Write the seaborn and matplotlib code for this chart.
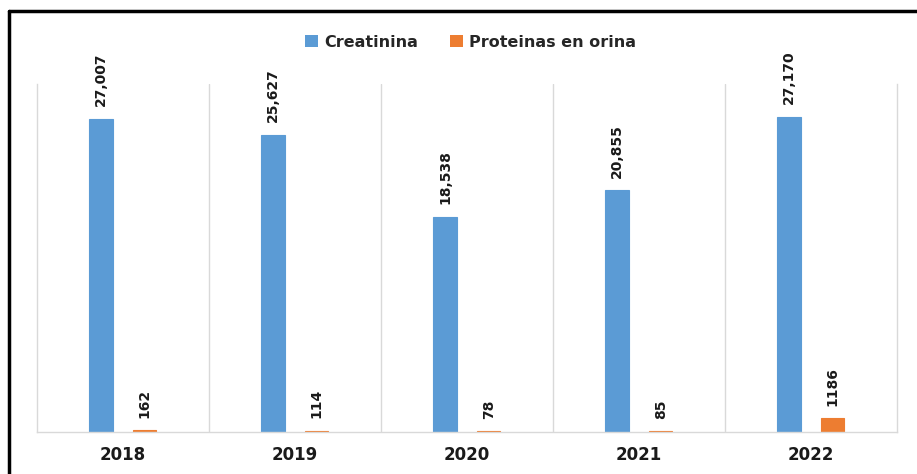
import matplotlib
matplotlib.use("Agg")
import matplotlib.pyplot as plt
from matplotlib.lines import Line2D
import seaborn as sns
import pandas as pd

years = ["2018", "2019", "2020", "2021", "2022"]
creatinina = [27007, 25627, 18538, 20855, 27170]
proteinas = [162, 114, 78, 85, 1186]
series_names = ["Creatinina", "Proteinas en orina"]
creat_labels = ["27,007", "25,627", "18,538", "20,855", "27,170"]
prot_labels = ["162", "114", "78", "85", "1186"]

df = pd.DataFrame({
    "year": years * 2,
    "value": creatinina + proteinas,
    "serie": [series_names[0]] * len(years) + [series_names[1]] * len(years),
})

sns.set_theme(style="white")
plt.rcParams["font.family"] = ["DejaVu Sans"]

fig = plt.figure(figsize=(9.17, 4.74), dpi=100)
ax = fig.add_axes([0.0403, 0.0886, 0.9377, 0.7342])

palette = {series_names[0]: "#5B9BD5", series_names[1]: "#ED7D31"}
sns.barplot(data=df, x="year", y="value", hue="serie", order=years,
            hue_order=series_names, palette=palette, width=0.51, gap=0.47,
            saturation=1, ax=ax, legend=True, linewidth=0)

for cont in ax.containers:
    for p in cont.patches:
        p.set_edgecolor(p.get_facecolor())
        p.set_linewidth(0.8)

ax.set_ylim(0, 30000)
ax.set_xlim(-0.5, len(years) - 0.5)
ax.set_xlabel("")
ax.set_ylabel("")
ax.set_yticks([])
ax.tick_params(axis="x", length=0, pad=10)
for t in ax.get_xticklabels():
    t.set_fontweight("bold")
    t.set_fontsize(12)
    t.set_color("#1a1a1a")

for sp in ["left", "right", "bottom"]:
    ax.spines[sp].set_color("#D9D9D9")
    ax.spines[sp].set_linewidth(1)
ax.spines["top"].set_visible(False)
for b in range(1, len(years)):
    ax.axvline(b - 0.5, color="#D9D9D9", lw=1, zorder=0)

for cont, labs in zip(ax.containers, [creat_labels, prot_labels]):
    ax.bar_label(cont, labels=labs, rotation=90, padding=9,
                 fontsize=10, fontweight="bold", color="#1a1a1a")

handles, labels = ax.get_legend_handles_labels()
ax.get_legend().remove()
fig.legend(handles, labels, loc="center", bbox_to_anchor=(0.513, 0.911),
           ncol=2, frameon=False, handlelength=0.8, handleheight=0.8,
           handletextpad=0.4, columnspacing=2.0,
           prop={"weight": "bold", "size": 11.5})

# outer frame (top and left edges visible)
fig.add_artist(Line2D([9 / 917, 1.0], [1 - 11 / 474, 1 - 11 / 474],
                      transform=fig.transFigure, color="black", lw=2.5))
fig.add_artist(Line2D([9 / 917, 9 / 917], [0.0, 1 - 11 / 474],
                      transform=fig.transFigure, color="black", lw=2.5))

fig.savefig("out.png", dpi=100)
